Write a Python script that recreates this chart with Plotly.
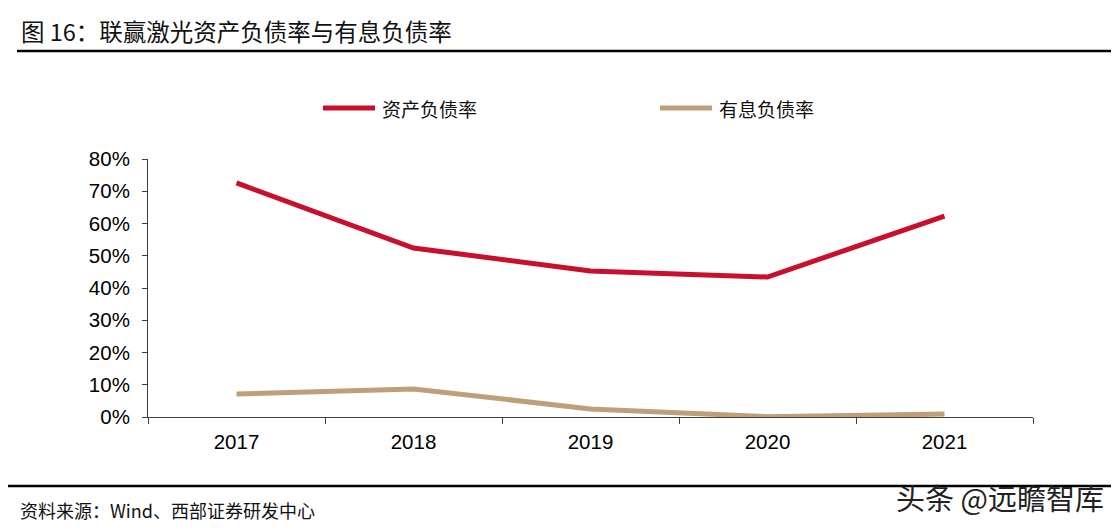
import plotly.graph_objects as go

years = ["2017", "2018", "2019", "2020", "2021"]
asset_liability = [72.6, 52.4, 45.3, 43.4, 62.3]
interest_debt = [7.1, 8.7, 2.5, 0.1, 0.9]
y_ticks = [0, 10, 20, 30, 40, 50, 60, 70, 80]
y_tick_text = [f"{v}%" for v in y_ticks]
series_names = ["资产负债率", "有息负债率"]
series_colors = ["#C8102E", "#BF9F7A"]

# page has 8px body margin; figure coords = page coords - 8
W, H = 1111, 523
L, R, T, B = 140, 86, 151, 114
PW, PH = W - L - R, H - T - B


def px(x):
    return (x - L) / PW


def py(y):
    return (H - B - y) / PH


fig = go.Figure()
for name, vals, col in zip(series_names, [asset_liability, interest_debt], series_colors):
    fig.add_trace(go.Scatter(x=years, y=vals, mode="lines", name=name,
                             line=dict(color=col, width=5), showlegend=False))

fig.update_layout(
    width=W, height=H,
    margin=dict(l=L, r=R, t=T, b=B),
    paper_bgcolor="white", plot_bgcolor="white",
    font=dict(family="Liberation Sans, Arial, sans-serif", color="#000000"),
    xaxis=dict(type="category", range=[-0.5, 4.5], showline=True, linecolor="#404040",
               linewidth=1, ticks="outside", tickson="boundaries", ticklen=6,
               tickcolor="#404040", showgrid=False, tickfont=dict(size=20.5),
               ticklabelstandoff=6, zeroline=False),
    yaxis=dict(range=[0, 80], tickvals=y_ticks, ticktext=y_tick_text, showline=True,
               linecolor="#404040", linewidth=1, ticks="outside", ticklen=5,
               tickcolor="#404040", showgrid=False, zeroline=False,
               ticklabelstandoff=8, tickfont=dict(size=20.5)),
)

# custom legend
leg_x = [315, 652]
for name, col, x0 in zip(series_names, series_colors, leg_x):
    fig.add_shape(type="line", xref="paper", yref="paper", x0=px(x0), x1=px(x0 + 52),
                  y0=py(100), y1=py(100), line=dict(color=col, width=5))
    fig.add_annotation(text=name, xref="paper", yref="paper", x=px(x0 + 57), y=py(100),
                       xanchor="left", yanchor="middle", showarrow=False,
                       font=dict(family="Noto Sans CJK SC", size=19, color="#111111"))

fig.add_annotation(text="图 16：联赢激光资产负债率与有息负债率", xref="paper", yref="paper",
                   x=px(11), y=py(23), xanchor="left", yanchor="middle", showarrow=False,
                   font=dict(family="Noto Sans CJK SC", size=23.5, color="#111111"))
fig.add_annotation(text="资料来源：Wind、西部证券研发中心", xref="paper", yref="paper",
                   x=px(10), y=py(502), xanchor="left", yanchor="middle", showarrow=False,
                   font=dict(family="Noto Sans CJK SC", size=18, color="#111111"))
fig.add_annotation(text="头条 @远瞻智库", xref="paper", yref="paper",
                   x=px(1098), y=py(489), xanchor="right", yanchor="middle", showarrow=False,
                   font=dict(family="Noto Sans CJK SC", size=29, color="#222222"))

fig.add_shape(type="line", xref="paper", yref="paper", x0=px(9), x1=px(W), y0=py(43), y1=py(43),
              line=dict(color="#000000", width=2.5))
fig.add_shape(type="line", xref="paper", yref="paper", x0=px(0), x1=px(W), y0=py(478), y1=py(478),
              line=dict(color="#000000", width=2.5))

fig.write_html("out.html")
